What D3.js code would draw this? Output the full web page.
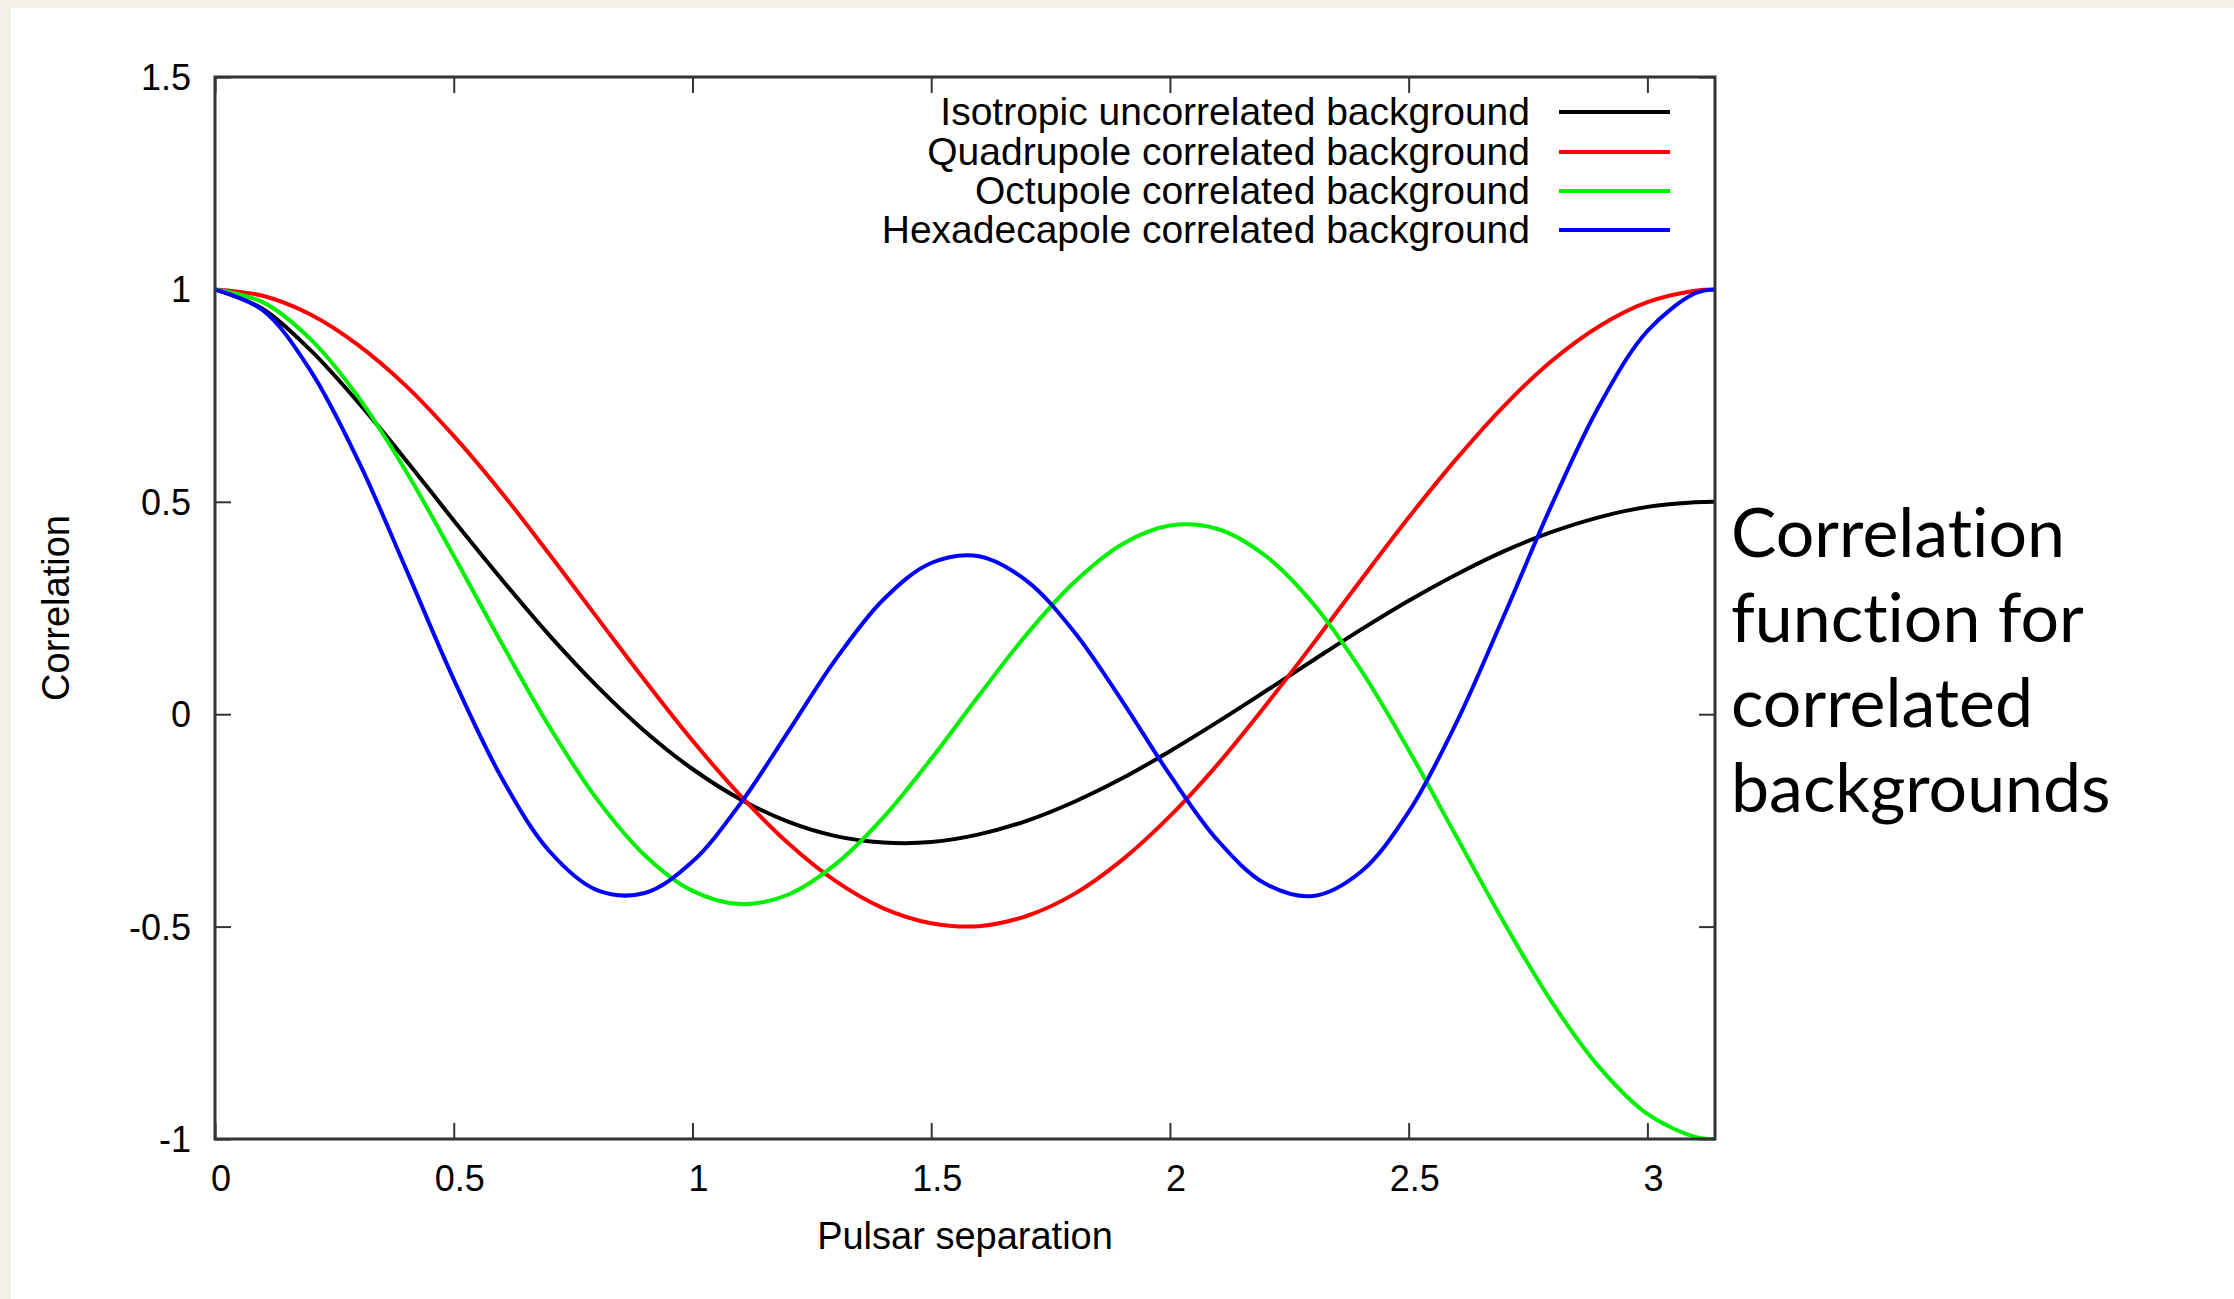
<!DOCTYPE html>
<html>
<head>
<meta charset="utf-8">
<script src="https://cdn.jsdelivr.net/npm/d3@7"></script>
<style>
  html, body { margin: 0; padding: 0; background: #f2efe8; }
  svg { display: block; }
  text { font-variant-ligatures: none; font-feature-settings: "liga" 0, "clig" 0; }
</style>
</head>
<body>
<svg id="chart" width="2234" height="1299"></svg>
<script>
// ---- data ----
const separation = [0, 0.1, 0.2, 0.3, 0.4, 0.5, 0.6, 0.7, 0.8, 0.9, 1.0, 1.1, 1.2, 1.3, 1.4, 1.5, 1.6,
  1.7, 1.8, 1.9, 2.0, 2.1, 2.2, 2.3, 2.4, 2.5, 2.6, 2.7, 2.8, 2.9, 3.0, 3.1, 3.1416];

const isotropic = [1, 0.954, 0.857, 0.734, 0.598, 0.456, 0.318, 0.186, 0.066, -0.040, -0.129, -0.200,
  -0.253, -0.287, -0.302, -0.301, -0.283, -0.251, -0.206, -0.151, -0.087, -0.018, 0.054, 0.127,
  0.199, 0.267, 0.329, 0.384, 0.429, 0.464, 0.488, 0.499, 0.5];

const quadrupole = [1, 0.985, 0.941, 0.869, 0.773, 0.655, 0.522, 0.377, 0.228, 0.080, -0.062, -0.191,
  -0.303, -0.393, -0.457, -0.492, -0.499, -0.475, -0.423, -0.343, -0.240, -0.118, 0.020, 0.166,
  0.316, 0.463, 0.601, 0.726, 0.832, 0.914, 0.970, 0.997, 1];

const octupole = [1, 0.970, 0.883, 0.747, 0.572, 0.373, 0.168, -0.029, -0.200, -0.332, -0.416, -0.447,
  -0.425, -0.353, -0.243, -0.105, 0.044, 0.188, 0.311, 0.400, 0.444, 0.436, 0.373, 0.260,
  0.104, -0.084, -0.288, -0.491, -0.678, -0.832, -0.941, -0.995, -1];

const hexadecapole = [1, 0.951, 0.809, 0.597, 0.342, 0.082, -0.149, -0.322, -0.414, -0.421, -0.347, -0.211,
  -0.042, 0.129, 0.270, 0.356, 0.372, 0.314, 0.193, 0.031, -0.143, -0.297, -0.399, -0.428,
  -0.371, -0.230, -0.020, 0.233, 0.494, 0.728, 0.902, 0.991, 1];

const seriesNames = ["Isotropic uncorrelated background", "Quadrupole correlated background",
  "Octupole correlated background", "Hexadecapole correlated background"];
const seriesValues = [isotropic, quadrupole, octupole, hexadecapole];
const seriesColors = ["#000000", "#ff0000", "#00f000", "#0000ff"];

const xTicks = [0, 0.5, 1, 1.5, 2, 2.5, 3];
const yTicks = [-1, -0.5, 0, 0.5, 1, 1.5];
const xTitle = "Pulsar separation";
const yTitle = "Correlation";
const sideText = ["Correlation", "function for", "correlated", "backgrounds"];

// ---- layout ----
const svg = d3.select("#chart");
const W = 2234, H = 1299;
const L = 215, R = 1715, T = 77, B = 1139;

svg.append("rect").attr("x", 11).attr("y", 8).attr("width", W - 11).attr("height", H - 8).attr("fill", "#ffffff");

const x = d3.scaleLinear().domain([0, Math.PI]).range([L, R]);
const y = d3.scaleLinear().domain([-1, 1.5]).range([B, T]);

const gnuFont = "'Liberation Sans', Arial, Helvetica, sans-serif";
const axisColor = "#333333";

// ticks (inward on all sides) via d3 axes
const tickLen = 16;
const axB = d3.axisBottom(x).tickValues(xTicks).tickSize(-tickLen).tickFormat("");
const axT = d3.axisTop(x).tickValues(xTicks).tickSize(-tickLen).tickFormat("");
const axLft = d3.axisLeft(y).tickValues(yTicks).tickSize(-tickLen).tickFormat("");
const axRgt = d3.axisRight(y).tickValues(yTicks).tickSize(-tickLen).tickFormat("");

function styleAxis(g) {
  g.select(".domain").remove();
  g.selectAll(".tick line").attr("stroke", axisColor).attr("stroke-width", 2);
}
svg.append("g").attr("transform", `translate(0,${B})`).call(axB).call(styleAxis);
svg.append("g").attr("transform", `translate(0,${T})`).call(axT).call(styleAxis);
svg.append("g").attr("transform", `translate(${L},0)`).call(axLft).call(styleAxis);
svg.append("g").attr("transform", `translate(${R},0)`).call(axRgt).call(styleAxis);

// tick labels
const fmt = d => String(d);
svg.append("g").selectAll("text").data(xTicks).join("text")
  .attr("x", d => x(d) + 6).attr("y", B + 52)
  .attr("text-anchor", "middle")
  .attr("font-family", gnuFont).attr("font-size", 36).attr("fill", "#000")
  .text(fmt);
svg.append("g").selectAll("text").data(yTicks).join("text")
  .attr("x", L - 24).attr("y", d => y(d) + 13)
  .attr("text-anchor", "end")
  .attr("font-family", gnuFont).attr("font-size", 36).attr("fill", "#000")
  .text(fmt);

// axis titles
svg.append("text").attr("x", (L + R) / 2).attr("y", 1249)
  .attr("text-anchor", "middle").attr("font-family", gnuFont).attr("font-size", 38).attr("fill", "#000")
  .text(xTitle);
svg.append("text").attr("transform", `translate(69,${(T + B) / 2}) rotate(-90)`)
  .attr("text-anchor", "middle").attr("font-family", gnuFont).attr("font-size", 38).attr("fill", "#000")
  .text(yTitle);

// curves
svg.append("clipPath").attr("id", "clip").append("rect")
  .attr("x", L).attr("y", T).attr("width", R - L).attr("height", B - T);
const line = d3.line().x((d, i) => x(separation[i])).y(d => y(d)).curve(d3.curveCatmullRom.alpha(0.5));
svg.append("g").attr("clip-path", "url(#clip)")
  .selectAll("path").data(seriesValues).join("path")
  .attr("d", d => line(d))
  .attr("fill", "none")
  .attr("stroke", (d, i) => seriesColors[i])
  .attr("stroke-width", 4)
  .attr("stroke-linejoin", "round");

// frame
svg.append("rect").attr("x", L).attr("y", T).attr("width", R - L).attr("height", B - T)
  .attr("fill", "none").attr("stroke", axisColor).attr("stroke-width", 3);

// legend
const legRows = [112, 152, 191, 230];
const leg = svg.append("g");
seriesNames.forEach((name, i) => {
  leg.append("text").attr("x", 1530).attr("y", legRows[i] + 13)
    .attr("text-anchor", "end").attr("font-family", gnuFont).attr("font-size", 39).attr("fill", "#000")
    .text(name);
  leg.append("line").attr("x1", 1559).attr("x2", 1670).attr("y1", legRows[i]).attr("y2", legRows[i])
    .attr("stroke", seriesColors[i]).attr("stroke-width", 4);
});

// side text
const sideFont = "'Gill Sans', 'Gill Sans MT', Lato, 'Open Sans', sans-serif";
const sideG = svg.append("g");
sideText.forEach((t, i) => {
  sideG.append("text").attr("x", 1731).attr("y", 557 + i * 85)
    .attr("font-family", sideFont).attr("font-size", 68).attr("fill", "#000")
    .style("font-variant-ligatures", "none")
    .text(t);
});
</script>
</body>
</html>
